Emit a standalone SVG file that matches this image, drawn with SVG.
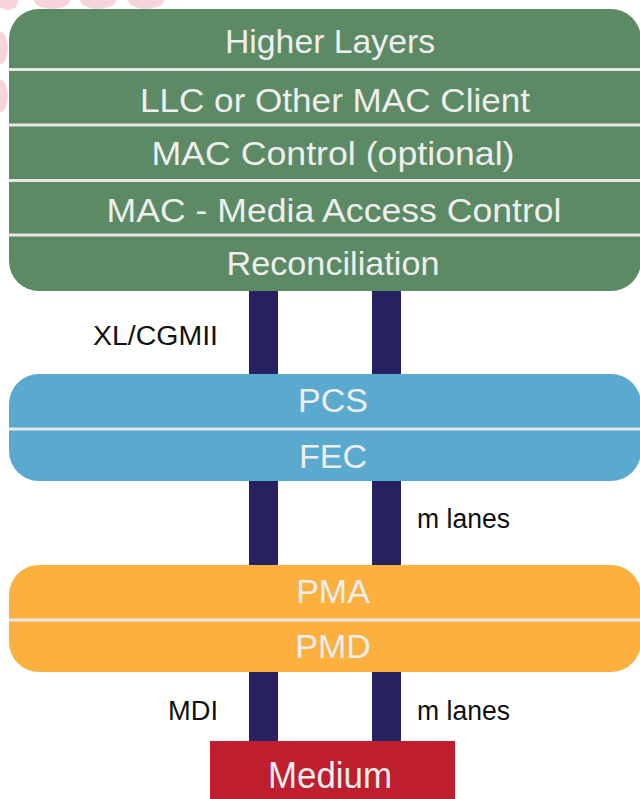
<svg xmlns="http://www.w3.org/2000/svg" width="640" height="799" viewBox="0 0 640 799">
<style>
.lbl{font-family:"Liberation Sans",Arial,sans-serif;fill:#eeeeee;text-anchor:middle;font-size:34px}
.side{font-family:"Liberation Sans",Arial,sans-serif;fill:#111111;font-size:27px}
.sep{stroke:#e8e8e8;stroke-width:3}
.bar{stroke:#262262;stroke-width:29}
.blob{fill:#eeb0bb;opacity:0.55}
</style>
<rect width="640" height="799" fill="#ffffff"/>
<g id="background">
<ellipse class="blob" cx="8" cy="2" rx="10" ry="8"/>
<ellipse class="blob" cx="52" cy="0" rx="18" ry="9"/>
<ellipse class="blob" cx="98" cy="0" rx="18" ry="9"/>
<ellipse class="blob" cx="146" cy="0" rx="18" ry="9"/>
<ellipse class="blob" cx="0" cy="48" rx="8" ry="16"/>
<ellipse class="blob" cx="0" cy="96" rx="8" ry="16"/>
</g>
<g id="connectors">
<line class="bar" x1="263.5" y1="290" x2="263.5" y2="375"/>
<line class="bar" x1="386.5" y1="290" x2="386.5" y2="375"/>
<line class="bar" x1="263.5" y1="480" x2="263.5" y2="566"/>
<line class="bar" x1="386.5" y1="480" x2="386.5" y2="566"/>
<line class="bar" x1="263.5" y1="671" x2="263.5" y2="742"/>
<line class="bar" x1="386.5" y1="671" x2="386.5" y2="742"/>
</g>
<g id="upper-stack">
<rect x="9" y="9" width="632" height="282" rx="30" fill="#5b8a64"/>
<line class="sep" x1="9" y1="69.5" x2="641" y2="69.5"/>
<line class="sep" x1="9" y1="125" x2="641" y2="125"/>
<line class="sep" x1="9" y1="180.5" x2="641" y2="180.5"/>
<line class="sep" x1="9" y1="235" x2="641" y2="235"/>
<text class="lbl" x="330" y="53" textLength="210" lengthAdjust="spacingAndGlyphs">Higher Layers</text>
<text class="lbl" x="335" y="112" textLength="390" lengthAdjust="spacingAndGlyphs">LLC or Other MAC Client</text>
<text class="lbl" x="333" y="165" textLength="363" lengthAdjust="spacingAndGlyphs">MAC Control (optional)</text>
<text class="lbl" x="334" y="222" textLength="455" lengthAdjust="spacingAndGlyphs">MAC - Media Access Control</text>
<text class="lbl" x="333" y="275" textLength="213" lengthAdjust="spacingAndGlyphs">Reconciliation</text>
</g>
<g id="pcs-fec">
<rect x="9" y="374" width="632" height="107" rx="30" fill="#5aaad0"/>
<line class="sep" x1="9" y1="429" x2="641" y2="429"/>
<text class="lbl" x="333" y="412">PCS</text>
<text class="lbl" x="333" y="468">FEC</text>
</g>
<g id="pma-pmd">
<rect x="9" y="565" width="632" height="107" rx="30" fill="#fbb040"/>
<line class="sep" x1="9" y1="620" x2="641" y2="620"/>
<text class="lbl" x="333" y="603">PMA</text>
<text class="lbl" x="333" y="658">PMD</text>
</g>
<g id="medium">
<rect x="210" y="741" width="245" height="60" fill="#be1e2d"/>
<text class="lbl" x="330" y="788" style="font-size:37px" textLength="124" lengthAdjust="spacingAndGlyphs">Medium</text>
</g>
<g id="labels">
<text class="side" x="93" y="345" textLength="125" lengthAdjust="spacingAndGlyphs">XL/CGMII</text>
<text class="side" x="417" y="528" textLength="93" lengthAdjust="spacingAndGlyphs">m lanes</text>
<text class="side" x="168" y="720" textLength="50" lengthAdjust="spacingAndGlyphs">MDI</text>
<text class="side" x="417" y="720" textLength="93" lengthAdjust="spacingAndGlyphs">m lanes</text>
</g>
</svg>
